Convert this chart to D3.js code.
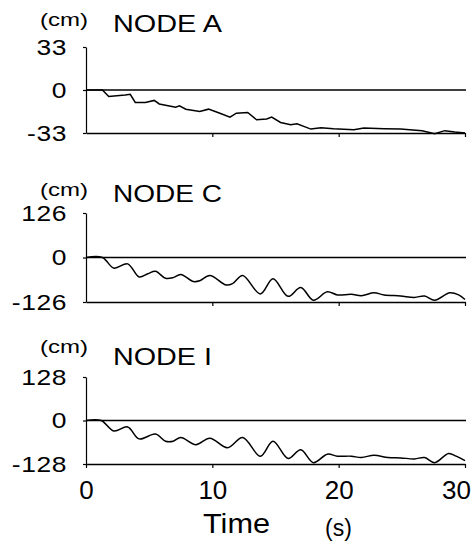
<!DOCTYPE html>
<html>
<head>
<meta charset="utf-8">
<script src="https://cdn.jsdelivr.net/npm/d3@7"></script>
<style>
  body { margin: 0; background: #fff; }
  svg { display: block; font-family: "Liberation Sans", Arial, sans-serif; }
</style>
</head>
<body>
<svg id="chart" width="472" height="542"></svg>
<script>
// time (s) and displacement (cm)
const timeA = [0, 1.3, 1.8, 3.1, 3.5, 3.9, 4.7, 5.4, 5.8, 6.6, 7.1, 7.4, 7.9, 9.0, 9.7, 10.6, 11.4, 11.9, 12.8, 13.5, 14.3, 14.7, 15.4, 16.2, 16.7, 17.8, 18.6, 19.6, 21.2, 22.0, 23.6, 24.9, 26.6, 27.6, 28.4, 29.2, 30];
const nodeA = [0, 0, -5, -3.8, -3.3, -9.6, -9.6, -8, -10.7, -12.2, -13.2, -12.2, -14.7, -16.5, -14.7, -17.8, -20.8, -17.8, -17.3, -22.8, -22.3, -20.8, -24.9, -26.6, -25.9, -30, -28.9, -29.7, -30.5, -29.2, -29.7, -30, -31.2, -33.5, -31.2, -32.2, -33];

const timeC = [0, 1.3, 2.2, 3.3, 4.2, 4.9, 5.5, 6.3, 6.9, 7.5, 8.5, 9.0, 9.8, 11.1, 11.6, 12.4, 13.8, 14.8, 16.0, 17.0, 18.0, 19.1, 19.9, 21.0, 21.8, 22.8, 23.6, 24.9, 26.0, 26.8, 27.6, 28.8, 29.5, 30];
const nodeC = [0, 0, -30, -18, -55, -46, -39, -59, -57, -48, -68, -66, -51, -78, -74, -51, -103, -60, -110, -85, -121, -97, -106, -104, -108, -100, -106, -109, -113, -109, -121, -100, -106, -119];

const timeI = [0, 1.2, 2.2, 3.3, 4.2, 5.5, 6.3, 6.9, 7.5, 8.7, 9.8, 11.2, 12.4, 13.8, 14.8, 16.0, 17.0, 18.0, 19.1, 19.9, 21.0, 21.8, 22.8, 23.9, 24.9, 26.0, 26.8, 27.6, 28.7, 29.3, 30];
const nodeI = [0, 0, -31, -19, -54, -40, -61, -61, -50, -71, -52, -80, -50, -105, -61, -112, -86, -124, -99, -105, -105, -109, -102, -109, -110, -113, -109, -124, -97, -105, -118];

const panelNames = ['NODE A', 'NODE C', 'NODE I'];
const panelLimits = [33, 126, 128];
const timeTicks = [0, 10, 20, 30];

const series = [
  { t: timeA, v: nodeA, curve: d3.curveLinear },
  { t: timeC, v: nodeC, curve: d3.curveCatmullRom },
  { t: timeI, v: nodeI, curve: d3.curveCatmullRom }
];

// panel placement on the page
const layout = [
  { top: 47, bottom: 133, unitY: 26, titleY: 32, titleW: 109 },
  { top: 213, bottom: 302, unitY: 196, titleY: 202, titleW: 109 },
  { top: 377, bottom: 464, unitY: 353, titleY: 365, titleW: 99 }
];

const svg = d3.select('#chart');
const x = d3.scaleLinear().domain([0, 30]).range([86, 465]);
const stretch = 1.2; // the scanned labels are wider than the font

panelNames.forEach((name, i) => {
  const lim = panelLimits[i];
  const L = layout[i];
  const y = d3.scaleLinear().domain([-lim, lim]).range([L.bottom, L.top]);
  const g = svg.append('g');

  // bottom axis (domain line at the minimum value)
  const xAxis = d3.axisBottom(x)
    .tickValues(i === 2 ? timeTicks : timeTicks.slice(1))
    .tickSize(4)
    .tickSizeOuter(0)
    .tickPadding(6)
    .tickFormat(i === 2 ? d3.format('d') : '');
  const xg = g.append('g')
    .attr('transform', `translate(0,${y(-lim)})`)
    .call(xAxis);
  xg.select('.domain').attr('stroke', '#000').attr('stroke-width', 1.3);
  xg.selectAll('.tick line').attr('stroke', '#000').attr('stroke-width', 1.2);
  xg.selectAll('.tick text')
    .attr('fill', '#000')
    .style('font-size', '26px')
    .attr('dy', '0.95em')
    .attr('dx', d => d === 30 ? -9 : 0);

  // left axis
  const yAxis = d3.axisLeft(y)
    .tickValues([-lim, 0, lim])
    .tickSize(3)
    .tickSizeOuter(0)
    .tickPadding(16)
    .tickFormat(d => d < 0 ? '-' + Math.abs(d) : String(d));
  const yg = g.append('g')
    .attr('transform', `translate(${x(0)},0)`)
    .call(yAxis);
  yg.select('.domain').attr('stroke', '#000').attr('stroke-width', 1.2);
  yg.selectAll('.tick line').attr('stroke', '#000').attr('stroke-width', 1.2);
  yg.selectAll('.tick text')
    .attr('fill', '#000')
    .style('font-size', '22px')
    .attr('x', -19 / stretch)
    .attr('transform', `scale(${stretch},1)`)
    .style('letter-spacing', '0.5px');

  // zero line
  g.append('line')
    .attr('x1', x(0)).attr('x2', x(30) + 1)
    .attr('y1', y(0)).attr('y2', y(0))
    .attr('stroke', '#000')
    .attr('stroke-width', 1.4);

  // data trace
  const s = series[i];
  const line = d3.line()
    .x(d => x(d[0]))
    .y(d => y(d[1]))
    .curve(s.curve);
  g.append('path')
    .datum(d3.zip(s.t, s.v))
    .attr('fill', 'none')
    .attr('stroke', '#000')
    .attr('stroke-width', 1.5)
    .attr('d', line);

  // unit and title
  g.append('text')
    .attr('x', 40).attr('y', L.unitY)
    .attr('textLength', 48).attr('lengthAdjust', 'spacingAndGlyphs')
    .style('font-size', '19px')
    .text('(cm)');
  g.append('text')
    .attr('x', 113).attr('y', L.titleY)
    .attr('textLength', L.titleW).attr('lengthAdjust', 'spacingAndGlyphs')
    .style('font-size', '23px')
    .text(name);
});

// x axis title
svg.append('text')
  .attr('x', 203).attr('y', 533)
  .attr('textLength', 67).attr('lengthAdjust', 'spacingAndGlyphs')
  .style('font-size', '27px')
  .text('Time');
svg.append('text')
  .attr('x', 325).attr('y', 536)
  .style('font-size', '23px')
  .text('(s)');
</script>
</body>
</html>
